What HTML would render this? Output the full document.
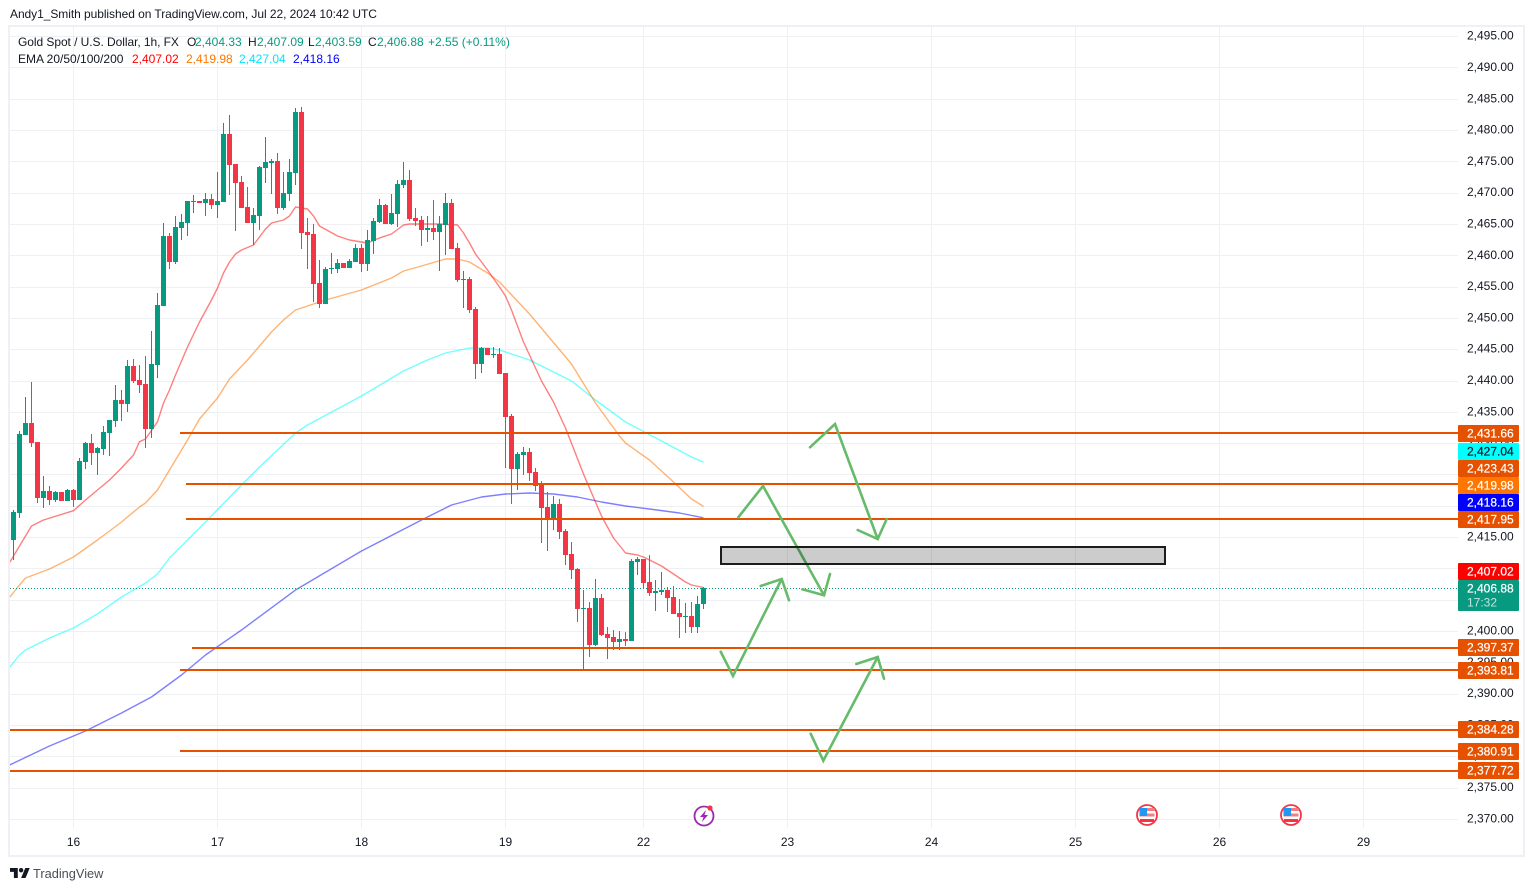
<!DOCTYPE html>
<html lang="en">
<head>
<meta charset="utf-8">
<title>Gold Spot / U.S. Dollar, 1h chart</title>
<style>
  html, body { margin: 0; padding: 0; background: #ffffff; }
  body { width: 1534px; height: 891px; overflow: hidden; position: relative; font-family: "Liberation Sans", sans-serif; }
  svg { position: absolute; left: 0; top: 0; }
  text { font-family: "Liberation Sans", sans-serif; font-size: 12px; fill: #131722; }
</style>
</head>
<body>
<svg id="chart" width="1534" height="891" viewBox="0 0 1534 891">
  <defs>
    <clipPath id="plot-clip"><rect x="10" y="27" width="1448" height="801"></rect></clipPath>
  </defs>
  <rect x="9" y="26" width="1515" height="830" fill="#ffffff" stroke="#eff0f6" stroke-width="2"></rect>
  <g id="grid"></g>
  <g id="plot" clip-path="url(#plot-clip)">
    <g id="emas"></g>
    <g id="candles"></g>
    <g id="levels"></g>
    <g id="last-line"></g>
    <g fill="none" stroke="#66bb6a" stroke-width="2.6" stroke-linejoin="miter" stroke-linecap="round">
      <polyline points="810,447.3 835,424 877.7,539"></polyline>
      <polyline points="857.7,530 877.7,539 886.7,519"></polyline>
      <polyline points="738.3,517.3 763,486 824,595.3"></polyline>
      <polyline points="802.3,589.3 824,595.3 830,574"></polyline>
      <polyline points="720.7,651.7 733,676 781.7,579"></polyline>
      <polyline points="760.7,586 781.7,579 789,600.3"></polyline>
      <polyline points="810.7,733.7 823.3,760.7 877.7,657"></polyline>
      <polyline points="856.3,664 877.7,657 884,678.7"></polyline>
    </g>
    <rect x="721" y="547" width="444" height="17" fill="rgba(0,0,0,0.2)" stroke="#1c1c1c" stroke-width="2"></rect>
    <g>
      <circle cx="704" cy="816" r="9.5" fill="#ffffff" stroke="#9c27b0" stroke-width="1.8"></circle>
      <polygon points="706,810 700,817 703.5,817 702,822 708,815 704.5,815" fill="#9c27b0"></polygon>
      <circle cx="710" cy="808" r="2.6" fill="#f23645"></circle>
    </g>
    <g>
      <circle cx="1147" cy="815" r="10" fill="#ffffff" stroke="#f23645" stroke-width="1.8"></circle>
      <rect x="1139.5" y="808" width="15" height="3" fill="#f77c80"></rect>
      <rect x="1139.5" y="813.5" width="15" height="3" fill="#f77c80"></rect>
      <rect x="1140" y="819" width="14" height="3" fill="#f23645"></rect>
      <rect x="1139.5" y="808" width="7.5" height="8" fill="#2196f3"></rect>
    </g>
    <g>
      <circle cx="1291" cy="815" r="10" fill="#ffffff" stroke="#f23645" stroke-width="1.8"></circle>
      <rect x="1283.5" y="808" width="15" height="3" fill="#f77c80"></rect>
      <rect x="1283.5" y="813.5" width="15" height="3" fill="#f77c80"></rect>
      <rect x="1284" y="819" width="14" height="3" fill="#f23645"></rect>
      <rect x="1283.5" y="808" width="7.5" height="8" fill="#2196f3"></rect>
    </g>
  </g>
  <g id="price-axis"></g>
  <g id="time-axis"></g>
  <g id="tags"></g>

  <text x="10" y="18" style="letter-spacing:-0.06px">Andy1_Smith published on TradingView.com, Jul 22, 2024 10:42 UTC</text>

  <g>
    <text x="18" y="46" style="letter-spacing:-0.06px">Gold Spot / U.S. Dollar, 1h, FX</text>
    <text x="187" y="46">O</text>
    <text x="195" y="46" style="fill:#089981">2,404.33</text>
    <text x="248" y="46">H</text>
    <text x="257" y="46" style="fill:#089981">2,407.09</text>
    <text x="308" y="46">L</text>
    <text x="315" y="46" style="fill:#089981">2,403.59</text>
    <text x="368" y="46">C</text>
    <text x="377" y="46" style="fill:#089981">2,406.88</text>
    <text x="428" y="46" style="fill:#089981">+2.55 (+0.11%)</text>
  </g>
  <g>
    <text x="18" y="63">EMA 20/50/100/200</text>
    <text x="132" y="63" style="fill:#ff0000">2,407.02</text>
    <text x="186" y="63" style="fill:#ff7700">2,419.98</text>
    <text x="239" y="63" style="fill:#00e5ff">2,427.04</text>
    <text x="293" y="63" style="fill:#0000ff">2,418.16</text>
  </g>

  <g>
    <svg x="10" y="868" width="20" height="10" viewBox="0 4 36 18" preserveAspectRatio="none">
      <path d="M14 22H7V11H0V4h14v18zM28 22h-8l7.5-18h8L28 22z" fill="#131722"></path>
      <circle cx="20" cy="8" r="4" fill="#131722"></circle>
    </svg>
    <text x="33" y="878" style="font-size:12.8px;fill:#4a4e59">TradingView</text>
  </g>
</svg>

<script>
// ---- chart data ----
const opens = [
 2414.61,2418.97,2431.43,2433.30,2430.27,2421.32,2422.44,2421.00,2422.28,2420.84,
 2422.60,2421.00,2427.07,2430.11,2428.51,2429.15,2431.71,2433.62,2436.97,2436.33,
 2442.40,2440.17,2439.53,2432.34,2442.56,2451.98,2463.17,2459.01,2464.44,2465.24,
 2468.60,2468.76,2468.44,2469.08,2468.12,2468.60,2479.46,2474.66,2471.79,2467.80,
 2465.24,2466.36,2474.02,2474.82,2475.14,2467.64,2469.88,2473.22,2482.97,2463.81,
 2463.49,2455.66,2452.30,2457.90,2457.90,2458.85,2458.05,2459.01,2461.25,2458.69,
 2462.36,2465.40,2468.12,2465.08,2466.68,2471.31,2472.11,2466.04,2465.72,2464.13,
 2464.44,2463.81,2464.92,2468.44,2461.25,2456.14,2456.30,2451.50,2442.72,2445.28,
 2444.16,2444.32,2441.28,2434.41,2425.95,2428.19,2428.67,2425.48,2423.56,2419.88,
 2417.80,2420.36,2416.05,2412.37,2409.96,2403.59,2403.75,2397.84,2405.35,2399.59,
 2399.11,2398.32,2398.79,2398.47,2411.09,2411.57,2407.91,2406.15,2406.31,2406.63,
 2405.51,2402.95,2402.31,2402.47,2400.71,2404.33];
const highs = [
 2419.40,2432.03,2437.45,2439.85,2430.27,2424.83,2423.24,2422.44,2422.28,2422.76,
 2422.76,2427.71,2430.27,2431.55,2429.47,2432.82,2433.78,2439.37,2438.57,2443.36,
 2443.52,2442.56,2444.00,2448.00,2454.06,2465.24,2463.65,2466.36,2466.68,2468.76,
 2469.72,2468.76,2470.04,2469.88,2473.38,2481.22,2482.49,2474.66,2472.75,2471.00,
 2467.64,2474.34,2478.98,2475.46,2476.42,2473.38,2475.46,2483.61,2483.77,2466.04,
 2465.08,2459.33,2458.21,2460.45,2459.49,2458.85,2459.49,2461.89,2461.89,2464.13,
 2466.04,2469.08,2468.28,2469.88,2472.11,2474.98,2473.70,2467.64,2466.36,2466.36,
 2468.92,2466.36,2470.04,2469.08,2462.05,2457.58,2456.62,2451.82,2445.44,2445.28,
 2445.44,2445.28,2441.28,2434.73,2428.67,2429.47,2429.31,2426.12,2424.04,2422.28,
 2421.64,2421.16,2416.37,2414.29,2410.12,2406.63,2404.71,2408.38,2405.99,2400.71,
 2400.23,2400.07,2399.91,2411.57,2411.89,2411.57,2412.21,2408.21,2409.50,2407.11,
 2407.27,2405.19,2404.55,2404.71,2405.67,2407.09];
const lows = [
 2411.42,2418.17,2431.40,2429.47,2420.52,2419.72,2420.20,2420.68,2420.84,2420.84,
 2419.88,2421.00,2425.95,2426.59,2425.00,2428.19,2428.03,2432.66,2433.62,2435.05,
 2439.69,2438.09,2429.31,2430.91,2440.49,2451.98,2457.90,2458.70,2462.52,2463.17,
 2466.84,2468.44,2466.36,2467.48,2466.04,2468.60,2469.72,2463.97,2467.64,2465.24,
 2461.73,2464.13,2471.63,2469.88,2466.68,2467.32,2468.76,2471.31,2461.09,2457.90,
 2452.62,2451.66,2452.30,2457.10,2457.26,2458.05,2458.05,2459.01,2457.42,2457.58,
 2460.29,2465.24,2465.08,2464.92,2464.60,2470.84,2465.56,2464.76,2461.57,2462.20,
 2462.52,2457.58,2460.13,2461.09,2455.82,2451.66,2450.86,2440.33,2441.28,2444.16,
 2443.68,2441.12,2426.11,2420.36,2422.60,2425.00,2424.04,2422.44,2414.13,2412.85,
 2416.20,2414.77,2410.62,2408.38,2401.51,2393.84,2395.92,2397.68,2399.27,2395.60,
 2397.04,2397.04,2397.68,2398.47,2409.02,2406.95,2405.67,2403.27,2405.83,2403.11,
 2402.79,2398.95,2399.75,2399.75,2399.75,2403.59];
const closes = [
 2419.08,2431.55,2433.30,2430.11,2421.32,2422.44,2421.00,2422.28,2420.84,2422.60,
 2421.00,2427.23,2430.11,2428.51,2429.31,2431.87,2433.78,2436.97,2436.33,2442.40,
 2440.01,2439.37,2432.34,2442.72,2452.14,2463.17,2459.02,2464.60,2465.40,2468.76,
 2468.76,2468.44,2469.08,2468.12,2468.76,2479.46,2474.50,2471.63,2467.64,2465.24,
 2466.52,2474.18,2474.98,2475.14,2467.64,2470.04,2473.38,2482.97,2463.65,2463.33,
 2455.50,2452.30,2457.90,2458.05,2458.85,2458.05,2459.17,2461.25,2458.69,2462.52,
 2465.56,2468.12,2465.08,2466.84,2471.47,2472.11,2465.88,2465.56,2464.13,2464.44,
 2463.81,2465.08,2468.44,2461.09,2456.14,2456.30,2451.34,2442.72,2445.28,2444.16,
 2444.32,2441.12,2434.25,2425.95,2428.35,2428.67,2425.32,2423.24,2419.72,2417.96,
 2420.36,2415.89,2412.21,2409.80,2403.59,2403.75,2397.84,2405.35,2399.43,2398.95,
 2398.32,2398.79,2398.47,2411.25,2411.57,2407.75,2406.15,2406.47,2406.63,2405.35,
 2402.79,2402.31,2402.47,2400.71,2404.39,2406.88];

const ema20Bars = [-1,3,5,10,12,14,16,18,20,21,22,24,25,26,27,29,31,33,34,35,36,37,38,40,41,42,43,45,46,47,49,50,51,54,56,59,61,63,65,66,71,74,75,76,77,79,81,82,83,85,87,88,90,92,95,96,98,100,102,104,105,108,110,112,113,115];
const ema20Values = [2410.46,2416.85,2417.81,2419.29,2421.00,2422.60,2424.20,2426.11,2428.19,2430.31,2430.74,2433.50,2436.50,2438.57,2440.97,2445.44,2449.43,2452.94,2454.86,2457.26,2459.01,2460.29,2460.93,2461.73,2463.01,2464.28,2465.24,2465.72,2466.36,2467.80,2467.48,2466.36,2464.76,2463.17,2462.53,2462.05,2462.85,2463.49,2464.92,2465.08,2465.08,2464.92,2463.65,2462.05,2460.29,2457.74,2455.02,2453.58,2451.35,2446.24,2442.08,2440.01,2436.65,2432.50,2425.15,2422.92,2418.44,2414.93,2412.53,2412.22,2411.90,2410.46,2409.18,2407.90,2407.42,2407.02];

const ema50Bars = [-1,1,2,6,10,14,18,21,22,24,26,29,31,34,36,39,41,43,45,47,49,52,58,63,65,68,72,74,76,79,81,86,93,97,101,102,106,110,113,115];
const ema50Values = [2405.03,2407.43,2408.54,2409.98,2411.90,2414.61,2417.48,2419.88,2420.52,2422.60,2425.79,2430.58,2433.94,2437.29,2440.33,2443.36,2445.60,2447.83,2449.75,2451.35,2451.98,2452.94,2454.54,2456.46,2457.58,2458.37,2459.49,2459.49,2459.01,2457.26,2455.82,2450.71,2442.72,2436.49,2431.22,2430.10,2427.39,2423.87,2421.16,2419.98];

const ema100Bars = [-1,1,2,6,10,14,18,22,24,26,32,38,41,47,49,58,65,69,72,76,79,81,86,93,97,102,108,113,115];
const ema100Values = [2393.85,2396.24,2397.04,2398.96,2400.56,2402.80,2405.51,2407.74,2409.18,2411.74,2417.48,2423.39,2426.27,2431.70,2432.98,2437.61,2441.60,2443.36,2444.48,2445.28,2445.28,2444.96,2443.36,2440.01,2436.97,2433.46,2430.42,2427.87,2427.04];

const ema200Bars = [-1,6,12,18,23,28,32,38,47,58,68,73,78,82,86,90,94,98,102,106,111,115];
const ema200Values = [2378.52,2381.71,2384.11,2386.98,2389.53,2393.05,2396.24,2400.24,2406.63,2412.85,2417.81,2420.20,2421.48,2421.96,2422.12,2421.96,2421.48,2420.68,2420.04,2419.56,2418.92,2418.16];

const levelPrices = [2431.66,2423.43,2417.95,2397.37,2393.81,2384.28,2380.91,2377.72];
const levelStartBars = [27.75,28.75,28.75,29.75,27.75,-1,27.75,-1];

const priceTicks = [2495,2490,2485,2480,2475,2470,2465,2460,2455,2450,2445,2440,2435,2430,2425,2420,2415,2410,2405,2400,2395,2390,2385,2380,2375,2370];
const dateLabels = ['16','17','18','19','22','23','24','25','26','29'];
const dateBars = [10,34,58,82,105,129,153,177,201,225];
const lastPrice = 2406.88;
const countdown = '17:32';

// ---- axis functions ----
const y = p => 130.6 + (2480 - p) * 6.261;
const x = b => 13.5 + 6 * b;
const fmt = p => p.toLocaleString('en-US', { minimumFractionDigits: 2, maximumFractionDigits: 2 });

const NS = 'http://www.w3.org/2000/svg';
function mk(parentId, tag, attrs) {
  const el = document.createElementNS(NS, tag);
  for (const k in attrs) el.setAttribute(k, attrs[k]);
  document.getElementById(parentId).appendChild(el);
  return el;
}

// grid
priceTicks.forEach(t => {
  const el = mk('grid', 'rect', { x: 10, y: Math.floor(y(t)), width: 1448, height: 1, fill: '#eff0f3' });
  
  
});
dateBars.forEach(b => {
  const el = mk('grid', 'rect', { x: Math.floor(x(b)), y: 27, width: 1, height: 801, fill: '#eff0f3' });
  
  
});

// EMA lines
function drawEma(bars, values, color, name) {
  const pts = bars.map((b, i) => x(b).toFixed(1) + ',' + y(values[i]).toFixed(1)).join(' ');
  const el = mk('emas', 'polyline', { points: pts, fill: 'none', stroke: color, 'stroke-width': 1.4, 'stroke-linejoin': 'round' });
  
  
}
drawEma(ema200Bars, ema200Values, 'rgba(0,0,255,0.5)', 'ema-200-line');
drawEma(ema100Bars, ema100Values, 'rgba(0,255,255,0.55)', 'ema-100-line');
drawEma(ema50Bars, ema50Values, 'rgba(255,119,0,0.55)', 'ema-50-line');
drawEma(ema20Bars, ema20Values, 'rgba(255,0,0,0.5)', 'ema-20-line');

// candles
closes.forEach((c, i) => {
  const o = opens[i];
  const color = c >= o ? '#089981' : '#f23645';
  const cx = x(i);
  const top = Math.round(y(Math.max(o, c)));
  const bottom = Math.round(y(Math.min(o, c)));
  const hi = Math.round(y(highs[i]));
  const lo = Math.round(y(lows[i]));
  const wick = mk('candles', 'rect', { x: Math.floor(cx), y: hi, width: 1, height: Math.max(1, lo - hi), fill: color });
  
  
  const body = mk('candles', 'rect', { x: Math.floor(cx) - 2, y: top, width: 5, height: Math.max(1, bottom - top), fill: color });
  
  
});

// horizontal levels
levelPrices.forEach((p, i) => {
  const el = mk('levels', 'rect', { x: x(levelStartBars[i]), y: Math.round(y(p) - 0.35) - 1, width: 1458 - x(levelStartBars[i]), height: 2, fill: '#e65100' });
  
  
});

// last price dotted line
const lastLine = mk('last-line', 'line', { x1: 10, x2: 1458, y1: Math.round(y(lastPrice)) + 0.5, y2: Math.round(y(lastPrice)) + 0.5, stroke: '#089981', 'stroke-width': 1, 'stroke-dasharray': '1 2' });



// price axis labels
priceTicks.forEach(t => {
  const el = mk('price-axis', 'text', { x: 1467, y: y(t) + 3 });
  el.textContent = fmt(t);
  
  
});

// time axis labels
dateBars.forEach((b, i) => {
  const el = mk('time-axis', 'text', { x: x(b), y: 846, 'text-anchor': 'middle' });
  el.textContent = dateLabels[i];
  
  
});

// price tags: stacked upward from the lowest price so they never overlap
const tags = levelPrices.map(p => ({ price: p, bg: '#e65100', ink: '#ffffff', h: 17 }));
tags.push({ price: ema20Values[ema20Values.length - 1], bg: '#ff0000', ink: '#ffffff', h: 17 });
tags.push({ price: ema50Values[ema50Values.length - 1], bg: '#ff7700', ink: '#ffffff', h: 17 });
tags.push({ price: ema100Values[ema100Values.length - 1], bg: '#00ffff', ink: '#131722', h: 17 });
tags.push({ price: ema200Values[ema200Values.length - 1], bg: '#0000ff', ink: '#ffffff', h: 17 });
tags.push({ price: lastPrice, bg: '#089981', ink: '#ffffff', h: 31, sub: countdown });
tags.sort((a, b) => a.price - b.price);
let limit = Infinity;
tags.forEach(t => {
  const top = Math.min(y(t.price) - 8.5, limit - t.h);
  limit = top;
  const rtop = Math.round(top);
  const box = mk('tags', 'rect', { x: 1458, y: rtop, width: 61, height: t.h, rx: 1, fill: t.bg });
  
  
  const label = mk('tags', 'text', { x: 1467, y: rtop + 12.5, style: 'fill:' + t.ink + ';stroke:' + t.ink + ';stroke-width:0.2px' });
  label.textContent = fmt(t.price);
  
  
  if (t.sub) {
    const sub = mk('tags', 'text', { x: 1467, y: rtop + 26.5, style: 'fill:rgba(255,255,255,0.75)' });
    sub.textContent = t.sub;
    
    
  }
});
</script>
</body>
</html>
